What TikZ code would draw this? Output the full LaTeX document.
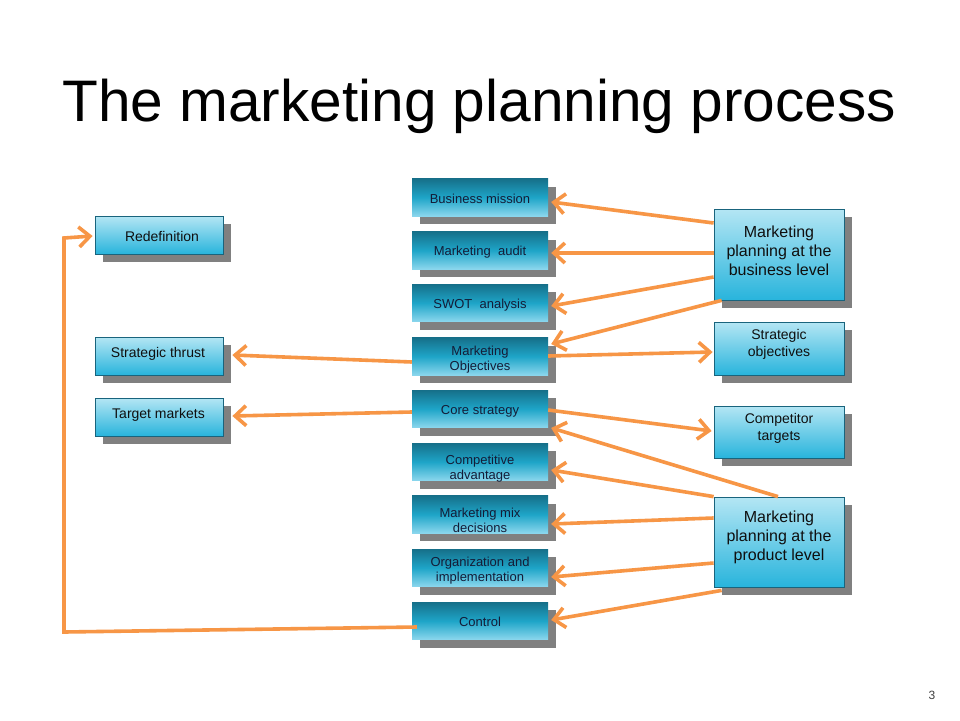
\documentclass[tikz,border=0pt]{standalone}
\usepackage{fontspec}
\setmainfont{Liberation Sans}
\usetikzlibrary{arrows.meta,calc,backgrounds}
\definecolor{mtop}{RGB}{22,112,138}
\definecolor{mmid}{RGB}{30,165,200}
\definecolor{mbot}{RGB}{140,215,238}
\definecolor{rtop}{RGB}{180,230,244}
\definecolor{rbot}{RGB}{40,180,220}
\definecolor{rdraw}{RGB}{25,100,125}
\definecolor{shad}{RGB}{128,128,128}
\definecolor{arr}{RGB}{247,150,70}
\definecolor{mtext}{RGB}{20,28,55}
\definecolor{stext}{RGB}{15,15,15}
\begin{document}
\begin{tikzpicture}[x=1pt,y=-1pt,
  midbox/.style={rectangle, inner sep=0pt, minimum width=136pt, minimum height=37.5pt,
    top color=mtop, bottom color=mbot, middle color=mmid},
  leftbox/.style={rectangle, inner sep=0pt, minimum width=128pt, minimum height=38pt,
    draw=rdraw, line width=0.8pt, top color=rtop, bottom color=rbot},
  rightbox/.style={rectangle, inner sep=0pt, minimum width=130pt,
    draw=rdraw, line width=0.8pt, top color=rtop, bottom color=rbot},
  midtxt/.style={align=center, inner sep=0pt, text=mtext, font=\fontsize{13}{15}\selectfont},
  lefttxt/.style={align=center, inner sep=0pt, text=stext, font=\fontsize{14}{17}\selectfont},
  smalltxt/.style={align=center, inner sep=0pt, text=stext, font=\fontsize{14}{17}\selectfont},
  bigtxt/.style={align=center, inner sep=0pt, text=stext, font=\fontsize{16}{19}\selectfont},
  conn/.style={draw=arr, line width=3.6pt, -{Straight Barb[length=11pt,width=20pt]}},
]
\useasboundingbox (0,0) rectangle (960,720);

% title
\node[anchor=base west, inner sep=0pt, font=\fontsize{58.6}{60}\selectfont] (title) at (62,121) {The marketing planning process};

% middle column
\node[midbox] (bm) at (480,197.5) {};
\node[midbox] (ma) at (480,250.5) {};
\node[midbox] (swot) at (480,303) {};
\node[midbox] (mo) at (480,356.5) {};
\node[midbox] (cs) at (480,409) {};
\node[midbox] (ca) at (480,462) {};
\node[midbox] (mm) at (480,514.5) {};
\node[midbox] (oi) at (480,568) {};
\node[midbox] (ctl) at (480,621) {};

\node[midtxt] (bm-t) at (480,199) {Business mission};
\node[midtxt] (ma-t) at (480,252) {Marketing\ \ audit};
\node[midtxt] (swot-t) at (480,305) {SWOT\ \ analysis};
\node[midtxt] (mo-t) at (480,359.5) {Marketing\\Objectives};
\node[midtxt] (cs-t) at (480,411) {Core strategy};
\node[midtxt] (ca-t) at (480,469) {Competitive\\advantage};
\node[midtxt] (mm-t) at (480,520) {Marketing mix\\decisions};
\node[midtxt] (oi-t) at (480,570.5) {Organization and\\implementation};
\node[midtxt] (ctl-t) at (480,622) {Control};

% left column
\node[leftbox] (rd) at (159,235) {};
\node[leftbox] (st) at (159,356) {};
\node[leftbox] (tm) at (159,417) {};
\node[lefttxt] (rd-t) at (162,236) {Redefinition};
\node[lefttxt] (st-t) at (158,354) {Strategic thrust};
\node[lefttxt] (tm-t) at (158.5,415) {Target markets};

% right column
\node[rightbox, minimum height=91pt] (bl) at (779,254.5) {};
\node[rightbox, minimum height=53pt] (so) at (779,348.5) {};
\node[rightbox, minimum height=52pt] (ct) at (779,432) {};
\node[rightbox, minimum height=90pt] (pl) at (779,542) {};
\node[bigtxt] (bl-t) at (779,251) {Marketing\\planning at the\\business level};
\node[smalltxt] (so-t) at (779,344.5) {Strategic\\objectives};
\node[smalltxt] (ct-t) at (779,428) {Competitor\\targets};
\node[bigtxt] (pl-t) at (779,537) {Marketing\\planning at the\\product level};

% page number
\node[inner sep=0pt, text=black!75, font=\fontsize{12}{14}\selectfont] (pg) at (932,695) {3};

% background and shadows
\begin{pgfonlayer}{background}
\fill[white] (0,0) rectangle (960,720);
\foreach \n in {bm,ma,swot,mo,cs,ca,mm,oi,ctl,rd,st,tm,bl,so,ct,pl}{
  \fill[shad] ($(\n.south west)+(8,8)$) rectangle ($(\n.north east)+(8,8)$);
}
\end{pgfonlayer}

% connectors
\draw[conn] ($(bl.west)+(0,-31.5)$) -- ($(bm.east)+(3,4.5)$);
\draw[conn] ($(bl.west)+(0,-1.5)$) -- ($(ma.east)+(3,2.5)$);
\draw[conn] ($(bl.west)+(0,22.5)$) -- ($(swot.east)+(3,3)$);
\draw[conn] ($(bl.south west)+(8,0)$) -- ($(mo.east)+(3,-12.5)$);
\draw[conn] ($(mo.east)+(0,-0.5)$) -- ($(so.west)+(-1,3.5)$);
\draw[conn] ($(mo.west)+(0,5.5)$) -- ($(st.east)+(9,-1)$);
\draw[conn] ($(cs.west)+(0,3)$) -- ($(tm.east)+(9,-1)$);
\draw[conn] ($(cs.east)+(0,1)$) -- ($(ct.west)+(-2,-1)$);
\draw[conn] ($(pl.north)+(-1,0)$) -- ($(cs.south east)+(3,0)$);
\draw[conn] (pl.north west) -- ($(ca.east)+(3,8)$);
\draw[conn] ($(pl.west)+(0,-24)$) -- ($(mm.east)+(3,9.5)$);
\draw[conn] ($(pl.west)+(0,21)$) -- ($(oi.east)+(3,9)$);
\draw[conn] ($(pl.south west)+(8,3)$) -- ($(ctl.east)+(3,-1)$);
\coordinate (c1) at (64,632);
\coordinate (c2) at (64,238);
\draw[conn, line join=miter] ($(ctl.west)+(5,6)$) -- (c1) -- (c2) -- ($(rd.west)+(-2,1)$);
\end{tikzpicture}
\end{document}
